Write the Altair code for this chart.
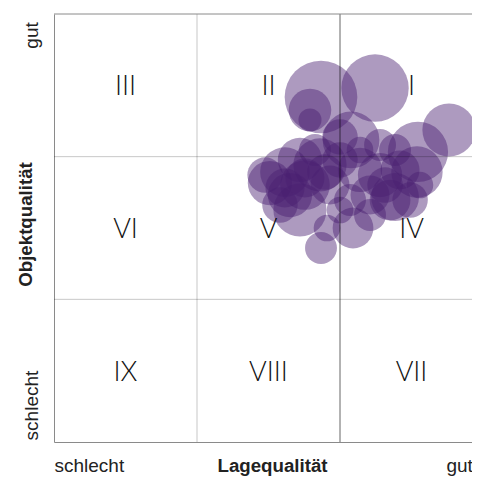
import altair as alt
import pandas as pd

# Bubble data: Lagequalität (x), Objektqualität (y), size value
lage = [2.245, 1.867, 2.762, 1.790, 1.790, 2.545, 2.077, 2.000, 2.280, 2.385,
        1.510, 1.615, 1.720, 1.860, 2.000, 1.755, 1.650, 1.930, 2.140, 2.280,
        2.420, 2.538, 2.385, 2.210, 2.070, 1.720, 1.580, 2.350, 2.559, 1.825,
        2.140, 1.476, 2.091, 1.867, 1.909, 2.210, 2.490, 2.000,
        1.755, 1.895, 2.315, 1.615]
objekt = [2.481, 2.418, 2.187, 2.327, 2.257, 2.033, 2.117, 2.138, 2.082, 2.047,
          1.815, 1.892, 1.977, 1.942, 1.977, 1.801, 1.731, 1.801, 1.907, 1.871,
          1.907, 1.892, 1.717, 1.731, 1.696, 1.626, 1.661, 1.696, 1.801, 2.047,
          2.047, 1.871, 1.500, 1.360, 1.500, 1.591, 1.696, 1.626,
          1.850, 1.892, 1.801, 1.780]
groesse = [144.4, 168.1, 90.0, 57.6, 16.9, 115.6, 102.4, 40.0, 32.4, 32.4,
           62.5, 78.4, 62.5, 90.0, 40.0, 78.4, 62.5, 48.4, 62.5, 62.5,
           48.4, 84.1, 72.9, 48.4, 32.4, 90.0, 40.0, 52.9, 22.5, 32.4,
           22.5, 40.0, 52.9, 32.4, 22.5, 32.4, 40.0, 22.5,
           48.4, 40.0, 40.0, 48.4]

# Matrix cells
numerals = ["I", "II", "III", "IV", "V", "VI", "VII", "VIII", "IX"]
num_col = [3, 2, 1, 3, 2, 1, 3, 2, 1]
num_row = [3, 3, 3, 2, 2, 2, 1, 1, 1]

light_lines_x = [1]
dark_lines_x = [2]
light_lines_y = [1, 2]
top_line_y = [3]

bubbles = pd.DataFrame({"lage": lage, "objekt": objekt, "groesse": groesse})
cells = pd.DataFrame({"label": numerals,
                      "cx": [c - 0.5 for c in num_col],
                      "cy": [r - 0.5 for r in num_row]})

# visible part of the 3-unit wide matrix (right edge is cut off)
xscale = alt.Scale(domain=[0, 2.923], nice=False, zero=False)
yscale = alt.Scale(domain=[0, 3], nice=False, zero=False)

font = "Liberation Sans"

x_axis = alt.Axis(values=[0, 2.741], labelExpr="datum.value < 1 ? 'schlecht' : 'gut'",
                  labelAlign="left", labelBaseline="alphabetic", labelPadding=29,
                  labelFlush=False, ticks=False, tickSize=0, grid=False,
                  domain=True, domainColor="#8a8a8a", domainWidth=1,
                  labelFont=font, labelFontSize=19, labelColor="#222",
                  title="Lagequalität", titleFont=font, titleFontSize=18.7,
                  titleFontWeight="bold", titleColor="#222",
                  titleX=218, titleY=29, titleAlign="center",
                  titleBaseline="alphabetic", titleAnchor="start")
y_axis = alt.Axis(values=[0.259, 2.853], labelExpr="datum.value < 1 ? 'schlecht' : 'gut'",
                  labelAngle=270, labelAlign="center", labelBaseline="alphabetic",
                  labelPadding=17, labelFlush=False, ticks=False, tickSize=0,
                  grid=False, domain=True, domainColor="#8a8a8a", domainWidth=1,
                  labelFont=font, labelFontSize=19, labelColor="#222",
                  title="Objektqualität", titleFont=font, titleFontSize=18.7,
                  titleFontWeight="bold", titleColor="#222", titleAngle=270,
                  titleX=-23, titleY=210, titleAlign="center",
                  titleBaseline="alphabetic", titleAnchor="start")

points = alt.Chart(bubbles).mark_circle(color="#4a2070", opacity=0.45).encode(
    x=alt.X("lage:Q", scale=xscale, axis=x_axis),
    y=alt.Y("objekt:Q", scale=yscale, axis=y_axis),
    size=alt.Size("groesse:Q", scale=alt.Scale(domain=[0, 100], range=[0, 3141.59]),
                  legend=None),
)

vlight = alt.Chart(pd.DataFrame({"v": light_lines_x})).mark_rule(
    color="#000", opacity=0.22, strokeWidth=1).encode(x=alt.X("v:Q", scale=xscale))
vdark = alt.Chart(pd.DataFrame({"v": dark_lines_x})).mark_rule(
    color="#000", opacity=0.6, strokeWidth=1).encode(x=alt.X("v:Q", scale=xscale))
hlight = alt.Chart(pd.DataFrame({"h": light_lines_y})).mark_rule(
    color="#000", opacity=0.22, strokeWidth=1).encode(y=alt.Y("h:Q", scale=yscale))
htop = alt.Chart(pd.DataFrame({"h": top_line_y})).mark_rule(
    color="#8a8a8a", strokeWidth=1).encode(y=alt.Y("h:Q", scale=yscale))

labels = alt.Chart(cells).mark_text(font="Lato", fontWeight=300, fontSize=27,
                                    color="#111", baseline="middle", align="center",
                                    dy=2).encode(
    x=alt.X("cx:Q", scale=xscale),
    y=alt.Y("cy:Q", scale=yscale),
    text="label:N",
)

chart = alt.layer(points, vlight, vdark, hlight, htop, labels).properties(
    width=418, height=428,
    autosize=alt.AutoSizeParams(type="none"),
    padding={"left": 46, "top": 6, "right": 0, "bottom": 40},
).configure_view(stroke=None)

chart.save("out.html", embed_options={"renderer": "svg", "actions": False})
